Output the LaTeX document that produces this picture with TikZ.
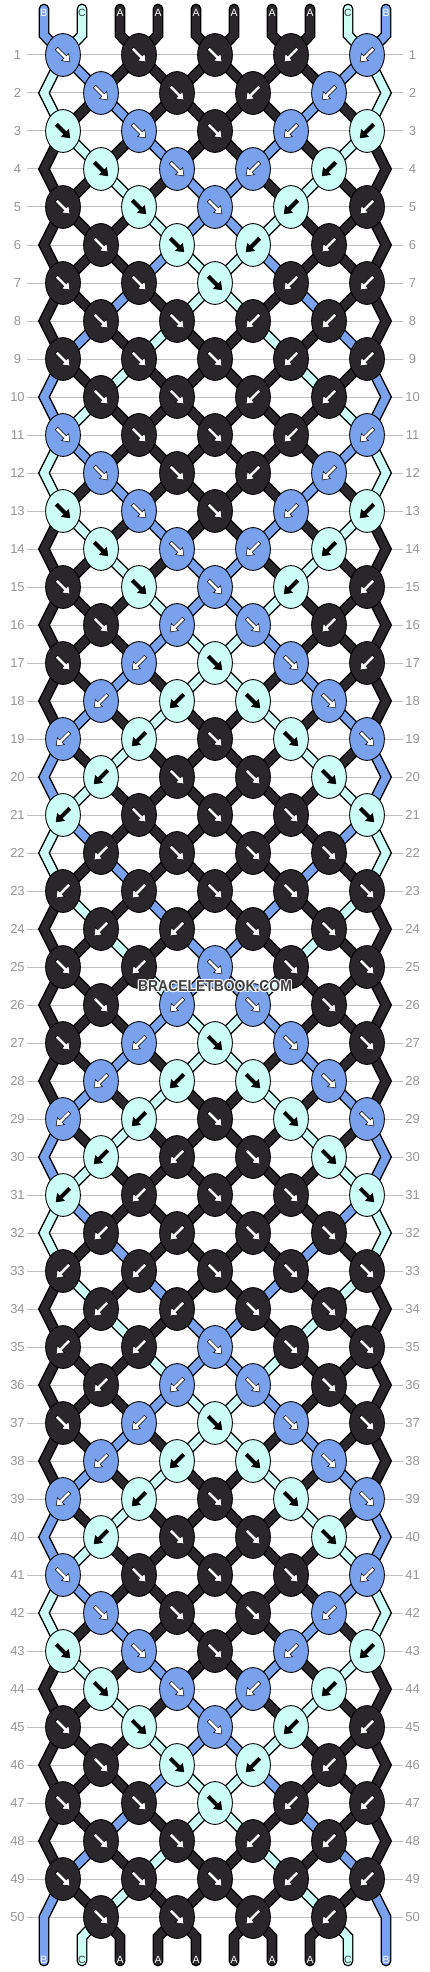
\documentclass[tikz,border=0pt]{standalone}
\usepackage{fontspec}
\setmainfont{Liberation Sans}
\usetikzlibrary{shapes.geometric}
\definecolor{colA}{RGB}{42,39,42}
\definecolor{colB}{RGB}{122,162,236}
\definecolor{colC}{RGB}{204,255,246}
\definecolor{gridgray}{RGB}{192,192,192}
\definecolor{numgray}{RGB}{150,150,150}
\definecolor{wmgray}{RGB}{64,64,64}
\definecolor{labdark}{RGB}{60,60,60}
\ExplSyntaxOn
\clist_const:Nn \c_bb_dirs_clist
 {
  RRRLL,RRLL,RRRLL,RRLL,RRRLL,RRLL,RRRLL,RRLL,RRRLL,RRLL,
  RRRLL,RRLL,RRRLL,RRLL,RRRLL,RLRL,RLRRL,LLRR,LLRRR,LRRR,
  LRRRR,LRRR,LLRRR,LLRR,RLRRR,RLRR,RLRRR,LLRR,LLRRR,LLRR,
  LLRRR,LLRR,LLRRR,LLRR,LLRRR,LLRR,RLRRR,LLRR,LLRRR,LRRR,
  RRRRL,RRRL,RRRLL,RRLL,RRRLL,RRLL,RRRLL,RRLL,RRRLL,RRLL
 }
\tl_const:Nn \c_bb_start_tl {BCAAAAAACB}
\tl_new:N \l_bb_dirs_tl
\tl_new:N \l_bb_L_tl
\tl_new:N \l_bb_R_tl
\tl_new:N \l_bb_D_tl
\int_new:N \l_bb_a_int
\int_new:N \l_bb_off_int
\cs_new_protected:Npn \bb_init:
  {
    \int_step_inline:nnn {0} {9}
      {
        \tl_gset:cx { g_bb_s_##1_tl } { \tl_item:Nn \c_bb_start_tl { ##1 + 1 } }
        \tl_gset:cx { g_bb_row_0_##1_tl } { \tl_item:Nn \c_bb_start_tl { ##1 + 1 } }
      }
  }
\cs_new_protected:Npn \bb_knot:nn #1#2
  {
    \int_set:Nn \l_bb_a_int { 2 * ( #2 - 1 ) + \l_bb_off_int }
    \tl_set:Nx \l_bb_L_tl { \tl_use:c { g_bb_s_ \int_use:N \l_bb_a_int _tl } }
    \tl_set:Nx \l_bb_R_tl { \tl_use:c { g_bb_s_ \int_eval:n { \l_bb_a_int + 1 } _tl } }
    \tl_set:Nx \l_bb_D_tl { \tl_item:Nn \l_bb_dirs_tl { #2 } }
    \tl_gset:cx { g_bb_kd_#1_#2_tl } { \l_bb_D_tl }
    \str_if_eq:VnTF \l_bb_D_tl { R }
      { \tl_gset:cx { g_bb_kc_#1_#2_tl } { \l_bb_L_tl } }
      { \tl_gset:cx { g_bb_kc_#1_#2_tl } { \l_bb_R_tl } }
    \tl_gset:cx { g_bb_s_ \int_use:N \l_bb_a_int _tl } { \l_bb_R_tl }
    \tl_gset:cx { g_bb_s_ \int_eval:n { \l_bb_a_int + 1 } _tl } { \l_bb_L_tl }
  }
\cs_new_protected:Npn \bb_row:n #1
  {
    \tl_set:Nx \l_bb_dirs_tl { \clist_item:Nn \c_bb_dirs_clist { #1 } }
    \int_set:Nn \l_bb_off_int { \int_if_odd:nTF { #1 } { 0 } { 1 } }
    \int_step_inline:nn { \tl_count:N \l_bb_dirs_tl }
      { \bb_knot:nn { #1 } { ##1 } }
    \int_step_inline:nnn { 0 } { 9 }
      { \tl_gset:cx { g_bb_row_#1_##1_tl } { \tl_use:c { g_bb_s_##1_tl } } }
  }
\cs_new:Npn \bbst #1#2 { \tl_use:c { g_bb_row_#1_#2_tl } }
\cs_new:Npn \bbkc #1#2 { \tl_use:c { g_bb_kc_#1_#2_tl } }
\cs_new:Npn \bbkd #1#2 { \tl_use:c { g_bb_kd_#1_#2_tl } }
\bb_init:
\int_step_inline:nn { 50 } { \bb_row:n { #1 } }
\ExplSyntaxOff
\newcommand\setnodename[3]{%
  \pgfmathtruncatemacro\tmpknot{isodd(#2) ? floor(#3/2)+1 : floor((#3-1)/2)+1}%
  \edef#1{k-#2-\tmpknot}%
}
% #1 = pass (0 outline, 1 colour), #2 = string letter, #3 = path macro
\newcommand\drawstrand[3]{%
  \edef\strandcol{col#2}%
  \ifnum#1=0 \draw[strandout] #3;\else\draw[strandcore, draw=\strandcol] #3;\fi
}
\newcommand\strandpass[1]{%
  % top
  \foreach \pp in {0,...,9}{
    \edef\scol{\bbst{0}{\pp}}
    \pgfmathtruncatemacro\kk{floor(\pp/2)+1}
    \edef\strandpath{(t-\pp) -- (tb-\pp) -- (k-1-\kk)}
    \drawstrand{#1}{\scol}{\strandpath}
  }
  % between rows
  \foreach \rr in {1,...,49}{
    \foreach \pp in {0,...,9}{
      \pgfmathtruncatemacro\evenflag{iseven(\rr)}
      \pgfmathtruncatemacro\edgeflag{(\pp==0 || \pp==9) ? 1 : 0}
      \ifnum\evenflag\edgeflag=11 \else
        \edef\scol{\bbst{\rr}{\pp}}
        \setnodename\nodeA{\rr}{\pp}
        \pgfmathtruncatemacro\rn{\rr+1}
        \ifnum\edgeflag=1
          \pgfmathtruncatemacro\rnn{\rr+2}
          \ifnum\rnn=51
            \edef\strandpath{(\nodeA) -- (e-\rn-\pp) -- (bb-\pp) -- (b-\pp)}
          \else
            \setnodename\nodeB{\rnn}{\pp}
            \edef\strandpath{(\nodeA) -- (e-\rn-\pp) -- (\nodeB)}
          \fi
        \else
          \setnodename\nodeB{\rn}{\pp}
          \edef\strandpath{(\nodeA) -- (\nodeB)}
        \fi
        \drawstrand{#1}{\scol}{\strandpath}
      \fi
    }
  }
  % bottom
  \foreach \pp in {1,...,8}{
    \edef\scol{\bbst{50}{\pp}}
    \setnodename\nodeA{50}{\pp}
    \edef\strandpath{(\nodeA) -- (bb-\pp) -- (b-\pp)}
    \drawstrand{#1}{\scol}{\strandpath}
  }
}
\tikzset{
  knotnode/.style={ellipse, draw=black, line width=0.9pt, inner sep=0pt, minimum width=34.8pt, minimum height=42.8pt},
  strandout/.style={line width=10.8pt, draw=black, line cap=round, line join=miter},
  strandcore/.style={line width=8pt, line cap=round, line join=miter},
  rownum/.style={text=numgray, font=\fontsize{13}{13}\selectfont, inner sep=0pt},
  gridline/.style={draw=gridgray, line width=1pt},
  strlabel/.style={font=\fontsize{10.5}{10.5}\selectfont, inner sep=0pt},
  wmtext/.style={font=\bfseries\fontsize{15.8}{16}\selectfont, inner sep=0pt},
}
\begin{document}
\begin{tikzpicture}[x=1pt,y=-1pt]
\useasboundingbox (0,0) rectangle (430,1972);
% grid lines and row numbers
\foreach \rr in {1,...,50}{
  \pgfmathsetmacro\yy{17+38*\rr}
  \draw[gridline] (27,\yy) -- (403,\yy);
  \node[rownum] (nl-\rr) at (17.5,\yy) {\rr};
  \node[rownum] (nr-\rr) at (412.5,\yy) {\rr};
}
% string ends and edge turning points
\foreach \pp in {0,...,9}{
  \pgfmathsetmacro\xx{44+38*\pp}
  \coordinate (t-\pp) at (\xx,9);
  \coordinate (tb-\pp) at (\xx,35);
  \coordinate (bb-\pp) at (\xx,1937);
  \coordinate (b-\pp) at (\xx,1961);
}
\foreach \rr in {2,4,...,50}{
  \coordinate (e-\rr-0) at (44,{17+38*\rr});
  \coordinate (e-\rr-9) at (386,{17+38*\rr});
}
% knot centres
\foreach \rr in {1,...,50}{
  \pgfmathtruncatemacro\nk{isodd(\rr) ? 5 : 4}
  \pgfmathtruncatemacro\xo{isodd(\rr) ? 63 : 101}
  \foreach \kk in {1,...,\nk}{
    \coordinate (k-\rr-\kk) at ({\xo+76*(\kk-1)},{17+38*\rr});
  }
}
% strands: black outline pass, then colour pass
\strandpass{0}
\strandpass{1}
% knots with arrows
\foreach \rr in {1,...,50}{
  \pgfmathtruncatemacro\nk{isodd(\rr) ? 5 : 4}
  \foreach \kk in {1,...,\nk}{
    \edef\kc{\bbkc{\rr}{\kk}}
    \edef\kd{\bbkd{\rr}{\kk}}
    \edef\kfill{col\kc}
    \node[knotnode, fill=\kfill] (kn-\rr-\kk) at (k-\rr-\kk) {};
    \if C\kc \def\afill{black}\else\def\afill{white}\fi
    \if R\kd \def\ang{-45}\else\def\ang{-135}\fi
    \filldraw[shift={(kn-\rr-\kk.center)}, rotate=\ang, fill=\afill, draw=black, line width=0.5pt, line join=miter]
      (-9.2,1.7) -- (3,1.7) -- (3,5) -- (9.8,0) -- (3,-5) -- (3,-1.7) -- (-9.2,-1.7) -- cycle;
  }
}
% string labels
\foreach \pp in {0,...,9}{
  \pgfmathsetmacro\xx{44+38*\pp}
  \edef\labtop{\bbst{0}{\pp}}
  \if C\labtop \def\lcol{labdark}\else\def\lcol{white}\fi
  \node[strlabel, text=\lcol] (lt-\pp) at (\xx,12.5) {\labtop};
  \edef\labbot{\bbst{50}{\pp}}
  \if C\labbot \def\lcol{labdark}\else\def\lcol{white}\fi
  \node[strlabel, text=\lcol] (lb-\pp) at (\xx,1959.5) {\labbot};
}
% watermark with light halo
\foreach \dx/\dy in {-1.2/0,1.2/0,0/-1.2,0/1.2,-0.9/-0.9,0.9/0.9,-0.9/0.9,0.9/-0.9}{
  \node[wmtext, text=white, opacity=0.75] at ({215+\dx},{986+\dy}) {\scalebox{0.88}[1]{BRACELETBOOK.COM}};
}
\node[wmtext, text=wmgray] (wm) at (215,986) {\scalebox{0.88}[1]{BRACELETBOOK.COM}};
\end{tikzpicture}
\end{document}
